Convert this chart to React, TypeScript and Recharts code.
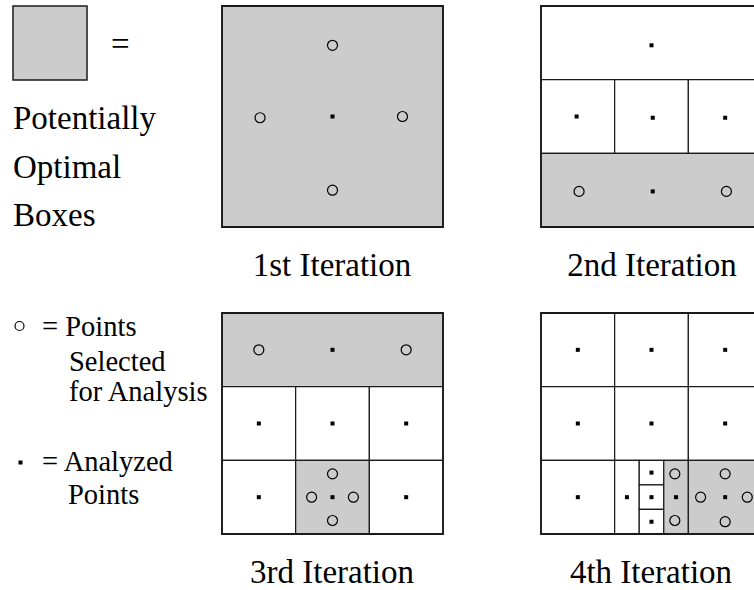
import { ReferenceArea, Scatter, ScatterChart, XAxis, YAxis } from "recharts";

type Box = { x1: number; x2: number; y1: number; y2: number; optimal: boolean };
type Pt = { x: number; y: number };

// side of the search box, in ninths so that thirds and ninths are whole numbers
const SIDE = 9;

// 1st iteration: the whole box, centre analyzed, 4 new points around it
const iter1Boxes: Box[] = [{ x1: 0, x2: 9, y1: 0, y2: 9, optimal: true }];
const iter1Analyzed: Pt[] = [{ x: 4.5, y: 4.5 }];
const iter1Selected: Pt[] = [
  { x: 1.55, y: 4.55 },
  { x: 7.35, y: 4.5 },
  { x: 4.5, y: 1.6 },
  { x: 4.5, y: 7.5 },
];

// 2nd iteration
const iter2Boxes: Box[] = [
  { x1: 0, x2: 9, y1: 0, y2: 3, optimal: false },
  { x1: 0, x2: 3, y1: 3, y2: 6, optimal: false },
  { x1: 3, x2: 6, y1: 3, y2: 6, optimal: false },
  { x1: 6, x2: 9, y1: 3, y2: 6, optimal: false },
  { x1: 0, x2: 9, y1: 6, y2: 9, optimal: true },
];
const iter2Analyzed: Pt[] = [
  { x: 4.5, y: 1.6 },
  { x: 1.45, y: 4.5 },
  { x: 4.55, y: 4.55 },
  { x: 7.5, y: 4.55 },
  { x: 4.55, y: 7.55 },
];
const iter2Selected: Pt[] = [
  { x: 1.55, y: 7.55 },
  { x: 7.55, y: 7.55 },
];

// 3rd iteration
const iter3Boxes: Box[] = [
  { x1: 0, x2: 9, y1: 0, y2: 3, optimal: true },
  { x1: 0, x2: 3, y1: 3, y2: 6, optimal: false },
  { x1: 3, x2: 6, y1: 3, y2: 6, optimal: false },
  { x1: 6, x2: 9, y1: 3, y2: 6, optimal: false },
  { x1: 0, x2: 3, y1: 6, y2: 9, optimal: false },
  { x1: 3, x2: 6, y1: 6, y2: 9, optimal: true },
  { x1: 6, x2: 9, y1: 6, y2: 9, optimal: false },
];
const iter3Analyzed: Pt[] = [
  { x: 4.5, y: 1.5 },
  { x: 1.5, y: 4.5 },
  { x: 4.5, y: 4.5 },
  { x: 7.5, y: 4.5 },
  { x: 1.5, y: 7.5 },
  { x: 4.5, y: 7.5 },
  { x: 7.5, y: 7.5 },
];
const iter3Selected: Pt[] = [
  { x: 1.5, y: 1.5 },
  { x: 7.5, y: 1.5 },
  { x: 3.65, y: 7.5 },
  { x: 5.35, y: 7.5 },
  { x: 4.5, y: 6.55 },
  { x: 4.5, y: 8.45 },
];

// 4th iteration
const iter4Boxes: Box[] = [
  { x1: 0, x2: 3, y1: 0, y2: 3, optimal: false },
  { x1: 3, x2: 6, y1: 0, y2: 3, optimal: false },
  { x1: 6, x2: 9, y1: 0, y2: 3, optimal: false },
  { x1: 0, x2: 3, y1: 3, y2: 6, optimal: false },
  { x1: 3, x2: 6, y1: 3, y2: 6, optimal: false },
  { x1: 6, x2: 9, y1: 3, y2: 6, optimal: false },
  { x1: 0, x2: 3, y1: 6, y2: 9, optimal: false },
  { x1: 3, x2: 4, y1: 6, y2: 9, optimal: false },
  { x1: 4, x2: 5, y1: 6, y2: 7, optimal: false },
  { x1: 4, x2: 5, y1: 7, y2: 8, optimal: false },
  { x1: 4, x2: 5, y1: 8, y2: 9, optimal: false },
  { x1: 5, x2: 6, y1: 6, y2: 9, optimal: true },
  { x1: 6, x2: 9, y1: 6, y2: 9, optimal: true },
];
const iter4Analyzed: Pt[] = [
  { x: 1.5, y: 1.5 },
  { x: 4.5, y: 1.5 },
  { x: 7.5, y: 1.5 },
  { x: 1.5, y: 4.5 },
  { x: 4.5, y: 4.5 },
  { x: 7.5, y: 4.5 },
  { x: 1.5, y: 7.5 },
  { x: 3.5, y: 7.5 },
  { x: 4.5, y: 6.5 },
  { x: 4.5, y: 7.5 },
  { x: 4.5, y: 8.5 },
  { x: 5.5, y: 7.5 },
  { x: 7.5, y: 7.5 },
];
const iter4Selected: Pt[] = [
  { x: 5.45, y: 6.55 },
  { x: 5.45, y: 8.45 },
  { x: 6.5, y: 7.5 },
  { x: 8.4, y: 7.5 },
  { x: 7.5, y: 6.55 },
  { x: 7.5, y: 8.5 },
];

const iterationLabels = ["1st Iteration", "2nd Iteration", "3rd Iteration", "4th Iteration"];

const GRAY = "#cccccc";
const INK = "#1a1a1a";
const SERIF = "'Liberation Serif', 'Times New Roman', Times, serif";

const Square = (p: any) => (
  <rect x={p.cx - 2} y={p.cy - 2} width={4} height={4} fill="#000" />
);
const Ring = (p: any) => (
  <circle cx={p.cx} cy={p.cy} r={5} fill="none" stroke="#000" strokeWidth={1.2} />
);

function Panel({
  boxes,
  analyzed,
  selected,
  left,
  top,
}: {
  boxes: Box[];
  analyzed: Pt[];
  selected: Pt[];
  left: number;
  top: number;
}) {
  return (
    <div style={{ position: "absolute", left, top }}>
      <ScatterChart width={225} height={225} margin={{ top: 2, right: 2, bottom: 2, left: 2 }}>
        <XAxis type="number" dataKey="x" domain={[0, SIDE]} hide />
        <YAxis type="number" dataKey="y" domain={[0, SIDE]} reversed hide />
        {boxes.map((b, i) => (
          <ReferenceArea
            key={i}
            x1={b.x1}
            x2={b.x2}
            y1={b.y1}
            y2={b.y2}
            fill={b.optimal ? GRAY : "#ffffff"}
            fillOpacity={1}
            stroke={INK}
            strokeWidth={1.2}
            ifOverflow="visible"
          />
        ))}
        <ReferenceArea
          x1={0}
          x2={SIDE}
          y1={0}
          y2={SIDE}
          fill="none"
          fillOpacity={0}
          stroke={INK}
          strokeWidth={1.8}
          ifOverflow="visible"
        />
        <Scatter data={analyzed} shape={Square} isAnimationActive={false} />
        <Scatter data={selected} shape={Ring} isAnimationActive={false} />
      </ScatterChart>
    </div>
  );
}

const big = { fontFamily: SERIF, fontSize: 33 };
const small = { fontFamily: SERIF, fontSize: 28.5 };

export default function App() {
  return (
    <div
      style={{
        position: "fixed",
        left: 0,
        top: 0,
        width: 754,
        height: 590,
        overflow: "hidden",
        background: "#fff",
        fontFamily: SERIF,
      }}>
      <svg width={754} height={590} style={{ position: "absolute", left: 0, top: 0 }}>
        {/* legend: potentially optimal boxes */}
        <rect x={13} y={6} width={74} height={74} fill={GRAY} stroke={INK} strokeWidth={1.5} />
        <text x={111} y={55} style={big}>=</text>
        <text x={13} y={129} style={big}>Potentially</text>
        <text x={13} y={178} style={big}>Optimal</text>
        <text x={13} y={226} style={big}>Boxes</text>

        {/* legend: points */}
        <circle cx={19.5} cy={326} r={4.5} fill="none" stroke="#000" strokeWidth={1.2} />
        <text x={42} y={336} style={small}>= Points</text>
        <text x={69} y={371} style={small}>Selected</text>
        <text x={69} y={401} style={small}>for Analysis</text>
        <rect x={18.5} y={460.5} width={4} height={4} fill="#000" />
        <text x={42} y={471} style={small}>= Analyzed</text>
        <text x={68} y={504} style={small}>Points</text>

        {/* iteration captions */}
        <text x={332} y={276} style={big} textAnchor="middle">{iterationLabels[0]}</text>
        <text x={652} y={276} style={big} textAnchor="middle">{iterationLabels[1]}</text>
        <text x={332} y={583} style={big} textAnchor="middle">{iterationLabels[2]}</text>
        <text x={651} y={583} style={big} textAnchor="middle">{iterationLabels[3]}</text>
      </svg>

      <Panel boxes={iter1Boxes} analyzed={iter1Analyzed} selected={iter1Selected} left={220} top={4} />
      <Panel boxes={iter2Boxes} analyzed={iter2Analyzed} selected={iter2Selected} left={539} top={4} />
      <Panel boxes={iter3Boxes} analyzed={iter3Analyzed} selected={iter3Selected} left={220} top={311} />
      <Panel boxes={iter4Boxes} analyzed={iter4Analyzed} selected={iter4Selected} left={539} top={311} />
    </div>
  );
}
